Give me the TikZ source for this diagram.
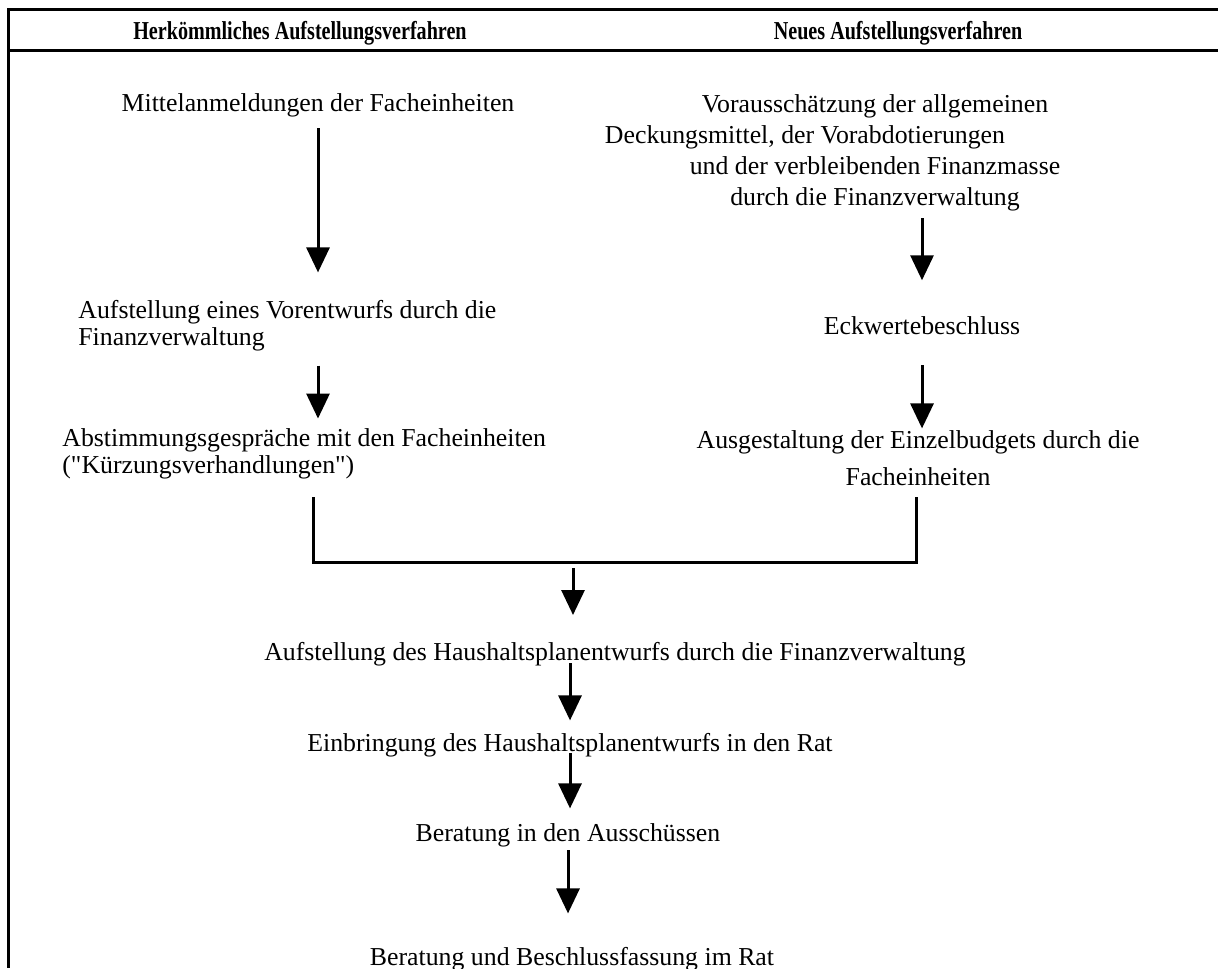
\documentclass[tikz,border=0pt]{standalone}
\usepackage{fontspec}
\setmainfont{Liberation Serif}
\usepackage{graphicx}
\usetikzlibrary{arrows.meta}

\tikzset{
  txt/.style={inner sep=0pt, font=\fontsize{12.9}{13.5}\selectfont},
  zeile/.style={txt, text height=10pt, text depth=2pt},
  pfeil/.style={line width=1.5pt, -{Triangle[width=11.5pt,length=12.5pt]}},
  linie/.style={line width=1.5pt}
}
\newcommand{\kopf}[1]{\scalebox{0.78}[1]{\bfseries #1}}

\begin{document}
\begin{tikzpicture}[x=0.5pt,y=-0.5pt]
\useasboundingbox (0,0) rectangle (1218,968);
% Rahmen und Kopfzeile
\draw[linie] (1218,10) -- (8,10) -- (8,968);
\draw[linie] (8,51) -- (1218,51);
\node[zeile] (hk) at (300,32) {\kopf{Herkömmliches Aufstellungsverfahren}};
\node[zeile] (nk) at (898,32) {\kopf{Neues Aufstellungsverfahren}};

% linke Spalte
\node[zeile] (m1) at (318,104) {Mittelanmeldungen der Facheinheiten};
\node[txt,align=left,anchor=north west] (v1) at (78,300) {Aufstellung eines Vorentwurfs durch die\\Finanzverwaltung};
\node[txt,align=left,anchor=north west] (k1) at (62,428) {Abstimmungsgespräche mit den Facheinheiten\\(\textquotedbl Kürzungsverhandlungen\textquotedbl)};

% rechte Spalte
\node[txt,align=center,anchor=north,font=\fontsize{12.9}{15.5}\selectfont] (r1) at (875,94) {Vorausschätzung der allgemeinen\\\hbox{Deckungsmittel, der Vorabdotierungen\hspace{70pt}}\\und der verbleibenden Finanzmasse\\durch die Finanzverwaltung};
\node[zeile] (e1) at (922,326) {Eckwertebeschluss};
\node[txt,align=center,anchor=north,font=\fontsize{12.9}{18.5}\selectfont] (g1) at (918,430) {Ausgestaltung der Einzelbudgets durch die\\Facheinheiten};

% gemeinsamer Teil
\node[zeile] (h1) at (615,652) {Aufstellung des Haushaltsplanentwurfs durch die Finanzverwaltung};
\node[zeile] (b1) at (570,743) {Einbringung des Haushaltsplanentwurfs in den Rat};
\node[zeile] (b2) at (568,833) {Beratung in den Ausschüssen};
\node[zeile] (b3) at (572,957) {Beratung und Beschlussfassung im Rat};

% Pfeile links
\draw[pfeil] ([yshift=-6pt]m1.south) -- ++(0,144);
\draw[pfeil] (m1.south |- v1.south) ++(0,14) -- ++(0,53);
% Pfeile rechts
\draw[pfeil] (e1.north |- r1.south) ++(0,7) -- ++(0,62);
\draw[pfeil] (e1.south) ++(0,27) -- ++(0,63);

% Zusammenfuehrung
\coordinate (zl) at (313,497);
\coordinate (zr) at (916,497);
\coordinate (zm) at (573,562);
\draw[linie] (zl) |- (zm) -| (zr);
\draw[pfeil] (zm) ++(0,6) -- ++(0,47);
\draw[pfeil] (b1.north |- h1.south) ++(0,-1) -- ++(0,57);
\draw[pfeil] (b1.south) ++(0,-2) -- ++(0,55);
\draw[pfeil] (b2.south) ++(0,5) -- ++(0,63);
\end{tikzpicture}
\end{document}
